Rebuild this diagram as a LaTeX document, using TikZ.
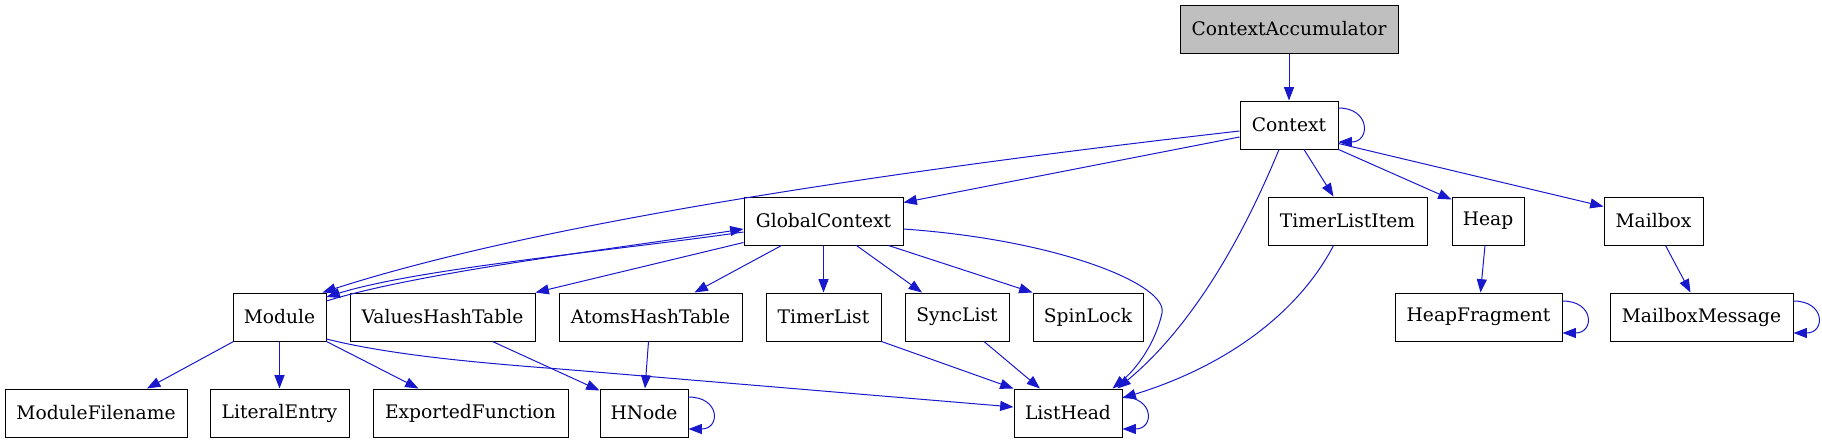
\documentclass[tikz,border=0pt]{standalone}
\usepackage{fontspec}
\setmainfont{DejaVu Serif}
\usetikzlibrary{arrows.meta,calc}
\definecolor{edgeblue}{RGB}{24,24,205}
\definecolor{rootgray}{RGB}{191,191,191}
\tikzset{
  box/.style={draw=black,line width=0.75pt,fill=white,rectangle,inner sep=0pt,
    minimum height=36pt,font=\fontsize{14pt}{16pt}\selectfont},
  e/.style={draw=edgeblue,line width=0.75pt,-{Triangle[length=10pt,width=7.5pt]}},
}
\begin{document}
\begin{tikzpicture}[x=0.75pt,y=-0.75pt]
\useasboundingbox (0,0) rectangle (1822,443);
% nodes
\node[box,fill=rootgray,minimum width=163.5pt] (ca) at (1289,29) {ContextAccumulator};
\node[box,minimum width=73.5pt] (ctx) at (1289,125) {Context};
\node[box,minimum width=119.25pt] (gc) at (823.5,221) {GlobalContext};
\node[box,minimum width=119.25pt] (tli) at (1347.5,221) {TimerListItem};
\node[box,minimum width=54pt] (heap) at (1488,221) {Heap};
\node[box,minimum width=74.25pt] (mb) at (1653.5,221) {Mailbox};
\node[box,minimum width=69.75pt] (mod) at (279.5,317) {Module};
\node[box,minimum width=138.75pt] (vht) at (442.5,317) {ValuesHashTable};
\node[box,minimum width=137.25pt] (aht) at (650.5,317) {AtomsHashTable};
\node[box,minimum width=86.25pt] (tl) at (823.5,317) {TimerList};
\node[box,minimum width=78pt] (sl) at (957,317) {SyncList};
\node[box,minimum width=82.5pt] (sp) at (1088,317) {SpinLock};
\node[box,minimum width=125.25pt] (hf) at (1478.5,317) {HeapFragment};
\node[box,minimum width=137.25pt] (mm) at (1701.5,317) {MailboxMessage};
\node[box,minimum width=136.5pt] (mf) at (96,413) {ModuleFilename};
\node[box,minimum width=104.25pt] (le) at (279.5,413) {LiteralEntry};
\node[box,minimum width=146.25pt] (ef) at (470.5,413) {ExportedFunction};
\node[box,minimum width=66pt] (hn) at (644,413) {HNode};
\node[box,minimum width=81pt] (lh) at (1068,413) {ListHead};
% edges from ContextAccumulator and Context
\draw[e] (ca.south) -- (ctx.north);
\draw[e] ($(ctx.east)+(0,-17)$) .. controls +(32,0) and +(32,0) .. ($(ctx.east)+(0,17)$);
\draw[e] ($(ctx.west)+(0,6)$) .. controls (740,188) and (478,242.5) .. ($(mod.north east)+(-4,0)$);
\draw[e] ($(ctx.west)+(0,12)$) -- ($(gc.north east)+(0,6)$);
\draw[e] ($(ctx.south)+(-10,0)$) .. controls (1250,220) and (1200,320) .. ($(lh.north east)+(-5,0)$);
\draw[e] ($(ctx.south)+(15,0)$) -- ($(tli.north)+(-14,0)$);
\draw[e] (ctx.south east) -- ($(heap.north west)+(0,3)$);
\draw[e] ($(ctx.south east)+(0,-6)$) -- ($(mb.north west)+(0,10)$);
% GlobalContext
\draw[e] ($(gc.west)+(0,11)$) .. controls (620,250) and (420,268) .. ($(mod.east)+(0,-20)$);
\draw[e] ($(mod.east)+(0,-16)$) .. controls (420,272) and (620,248) .. ($(gc.west)+(0,8)$);
\draw[e] ($(gc.south west)+(0,-3)$) -- (vht.north east);
\draw[e] ($(gc.south)+(-42,0)$) -- ($(aht.north)+(44,0)$);
\draw[e] (gc.south) -- (tl.north);
\draw[e] ($(gc.south)+(33,0)$) -- ($(sl.north)+(-35,0)$);
\draw[e] ($(gc.south east)+(-15,0)$) -- (sp.north west);
\draw[e] ($(gc.east)+(0,8)$) .. controls (1060,240) and (1168,285) .. (1162,313)
  .. controls (1155,345) and (1135,370) .. ($(lh.north east)+(-10,0)$);
% Module
\draw[e] ($(mod.south west)+(1,0)$) -- ($(mf.north)+(51,0)$);
\draw[e] (mod.south) -- (le.north);
\draw[e] (mod.south east) -- ($(ef.north)+(-52,0)$);
\draw[e] ($(mod.east)+(0,22)$) .. controls (390,355) and (480,363) .. (560,369) -- ($(lh.west)+(0,-6)$);
% hash tables
\draw[e] ($(vht.south)+(50,0)$) -- ($(hn.north west)+(0,2)$);
\draw[e] ($(aht.south)+(-2,0)$) -- ($(hn.north)+(1,0)$);
\draw[e] ($(hn.east)+(0,-16)$) .. controls +(32,0) and +(32,0) .. ($(hn.east)+(0,16)$);
% lists
\draw[e] (tl.south east) -- (lh.north west);
\draw[e] ($(sl.south)+(27,0)$) -- ($(lh.north)+(-28,0)$);
\draw[e] ($(tli.south)+(-14,0)$) .. controls (1300,310) and (1230,365) .. ($(lh.east)+(0,-15)$);
\draw[e] ($(lh.east)+(0,-16)$) .. controls +(32,0) and +(32,0) .. ($(lh.east)+(0,16)$);
% heap and mailbox
\draw[e] ($(heap.south)+(-3,0)$) -- ($(hf.north)+(2,0)$);
\draw[e] ($(hf.east)+(0,-16)$) .. controls +(32,0) and +(32,0) .. ($(hf.east)+(0,16)$);
\draw[e] ($(mb.south)+(12,0)$) -- ($(mm.north)+(-11,0)$);
\draw[e] ($(mm.east)+(0,-16)$) .. controls +(32,0) and +(32,0) .. ($(mm.east)+(0,16)$);
\end{tikzpicture}
\end{document}
